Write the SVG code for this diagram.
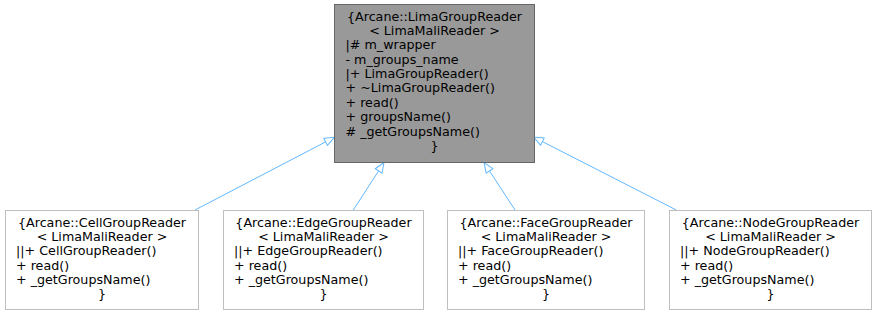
<svg xmlns="http://www.w3.org/2000/svg" width="877" height="315" viewBox="0 0 877 315">
  <style>
    text { font-family: "DejaVu Sans", "Liberation Sans", sans-serif; font-size: 12.7px; fill: #000000; }
    .c { text-anchor: middle; }
    .base { fill: #999999; stroke: #666666; stroke-width: 1; }
    .derived { fill: #ffffff; stroke: #bfbfbf; stroke-width: 1; }
    .inherit { fill: none; stroke: #63b8ff; stroke-width: 1; marker-end: url(#hollow); }
  </style>
  <defs>
    <marker id="hollow" markerUnits="userSpaceOnUse" viewBox="0 0 12 10" markerWidth="12" markerHeight="10" refX="1" refY="5" orient="auto">
      <path d="M1,1 L11,5 L1,9 Z" fill="none" stroke="#63b8ff" stroke-width="1"/>
    </marker>
  </defs>
  <rect width="877" height="315" fill="#ffffff"/>

  <!-- inheritance connectors -->
  <g id="edges">
    <path class="inherit" d="M195,210 L325.6,141.9"/>
    <path class="inherit" d="M353.3,210 L378.6,170.9"/>
    <path class="inherit" d="M515,210 L489.5,170.9"/>
    <path class="inherit" d="M676.3,210 L542.4,141.6"/>
  </g>

  <g id="node-LimaGroupReader">
    <rect class="base" x="334.5" y="4.5" width="200" height="158"/>
    <text class="c" x="434.5" y="20.7">{Arcane::LimaGroupReader</text>
    <text class="c" x="434.5" y="35.05">&lt; LimaMaliReader &gt;</text>
    <text x="345.5" y="49.4">|# m_wrapper</text>
    <text x="345.5" y="63.75">- m_groups_name</text>
    <text x="345.5" y="78.1">|+ LimaGroupReader()</text>
    <text x="345.5" y="92.45">+ ~LimaGroupReader()</text>
    <text x="345.5" y="106.8">+ read()</text>
    <text x="345.5" y="121.15">+ groupsName()</text>
    <text x="345.5" y="135.5"># _getGroupsName()</text>
    <text class="c" x="434.5" y="149.85">}</text>
  </g>

  <g id="node-CellGroupReader">
    <rect class="derived" x="5.5" y="210.5" width="193" height="99"/>
    <text class="c" x="102" y="226.7">{Arcane::CellGroupReader</text>
    <text class="c" x="102" y="241.05">&lt; LimaMaliReader &gt;</text>
    <text x="16" y="255.4">||+ CellGroupReader()</text>
    <text x="16" y="269.75">+ read()</text>
    <text x="16" y="284.1">+ _getGroupsName()</text>
    <text class="c" x="102" y="298.45">}</text>
  </g>

  <g id="node-EdgeGroupReader">
    <rect class="derived" x="223.5" y="210.5" width="200" height="99"/>
    <text class="c" x="323.5" y="226.7">{Arcane::EdgeGroupReader</text>
    <text class="c" x="323.5" y="241.05">&lt; LimaMaliReader &gt;</text>
    <text x="234" y="255.4">||+ EdgeGroupReader()</text>
    <text x="234" y="269.75">+ read()</text>
    <text x="234" y="284.1">+ _getGroupsName()</text>
    <text class="c" x="323.5" y="298.45">}</text>
  </g>

  <g id="node-FaceGroupReader">
    <rect class="derived" x="447.5" y="210.5" width="197" height="99"/>
    <text class="c" x="546" y="226.7">{Arcane::FaceGroupReader</text>
    <text class="c" x="546" y="241.05">&lt; LimaMaliReader &gt;</text>
    <text x="458" y="255.4">||+ FaceGroupReader()</text>
    <text x="458" y="269.75">+ read()</text>
    <text x="458" y="284.1">+ _getGroupsName()</text>
    <text class="c" x="546" y="298.45">}</text>
  </g>

  <g id="node-NodeGroupReader">
    <rect class="derived" x="669.5" y="210.5" width="202" height="99"/>
    <text class="c" x="770.5" y="226.7">{Arcane::NodeGroupReader</text>
    <text class="c" x="770.5" y="241.05">&lt; LimaMaliReader &gt;</text>
    <text x="680" y="255.4">||+ NodeGroupReader()</text>
    <text x="680" y="269.75">+ read()</text>
    <text x="680" y="284.1">+ _getGroupsName()</text>
    <text class="c" x="770.5" y="298.45">}</text>
  </g>
</svg>
